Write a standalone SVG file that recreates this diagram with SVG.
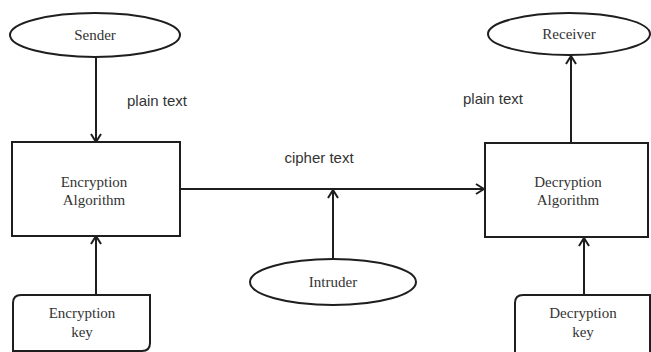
<svg xmlns="http://www.w3.org/2000/svg" width="651" height="352" viewBox="0 0 651 352">
<style>
.shape{fill:#fff;stroke:#1e1e1e;stroke-width:2}
.lbl{font-family:"Liberation Serif",serif;font-size:15px;fill:#333;text-anchor:middle}
.edge{font-family:"Liberation Sans",sans-serif;font-size:15px;fill:#333;text-anchor:middle}
.conn{stroke:#1e1e1e;stroke-width:2;fill:none;marker-end:url(#arr)}
</style>
<defs>
<marker id="arr" viewBox="0 0 12 12" refX="11" refY="6" markerWidth="12" markerHeight="12" markerUnits="userSpaceOnUse" orient="auto">
<path d="M3,1 L11,6 L3,11" fill="none" stroke="#1e1e1e" stroke-width="2"/>
</marker>
</defs>
<rect width="651" height="352" fill="#fff"/>
<g id="connectors">
<line class="conn" x1="96" y1="57" x2="96" y2="142"/>
<line class="conn" x1="96" y1="295" x2="96" y2="236"/>
<line class="conn" x1="180" y1="189" x2="484" y2="189"/>
<line class="conn" x1="333" y1="260" x2="333" y2="190"/>
<line class="conn" x1="571" y1="143" x2="571" y2="56"/>
<line class="conn" x1="584" y1="295" x2="584" y2="238"/>
<text class="edge" x="157" y="106">plain text</text>
<text class="edge" x="319" y="163">cipher text</text>
<text class="edge" x="493" y="104">plain text</text>
</g>
<g id="sender">
<ellipse class="shape" cx="95" cy="35" rx="85" ry="22"/>
<text class="lbl" x="95" y="40">Sender</text>
</g>
<g id="receiver">
<ellipse class="shape" cx="569" cy="34" rx="81" ry="21"/>
<text class="lbl" x="569" y="39">Receiver</text>
</g>
<g id="encryption-algorithm">
<rect class="shape" x="12" y="142" width="168" height="94"/>
<text class="lbl" x="94" y="187">Encryption</text>
<text class="lbl" x="94" y="205">Algorithm</text>
</g>
<g id="decryption-algorithm">
<rect class="shape" x="485" y="143" width="163" height="94"/>
<text class="lbl" x="568" y="187">Decryption</text>
<text class="lbl" x="568" y="205">Algorithm</text>
</g>
<g id="intruder">
<ellipse class="shape" cx="333" cy="282" rx="83" ry="23"/>
<text class="lbl" x="333" y="287">Intruder</text>
</g>
<g id="encryption-key">
<path class="shape" d="M13,351 L13,303 Q13,295 21,295 L150,295 L150,343 Q150,351 142,351 Z"/>
<text class="lbl" x="82" y="318">Encryption</text>
<text class="lbl" x="82" y="337">key</text>
</g>
<g id="decryption-key">
<path class="shape" d="M515,352 L515,303 Q515,295 523,295 L650,295 L650,352"/>
<text class="lbl" x="583" y="318">Decryption</text>
<text class="lbl" x="583" y="337">key</text>
</g>
</svg>
